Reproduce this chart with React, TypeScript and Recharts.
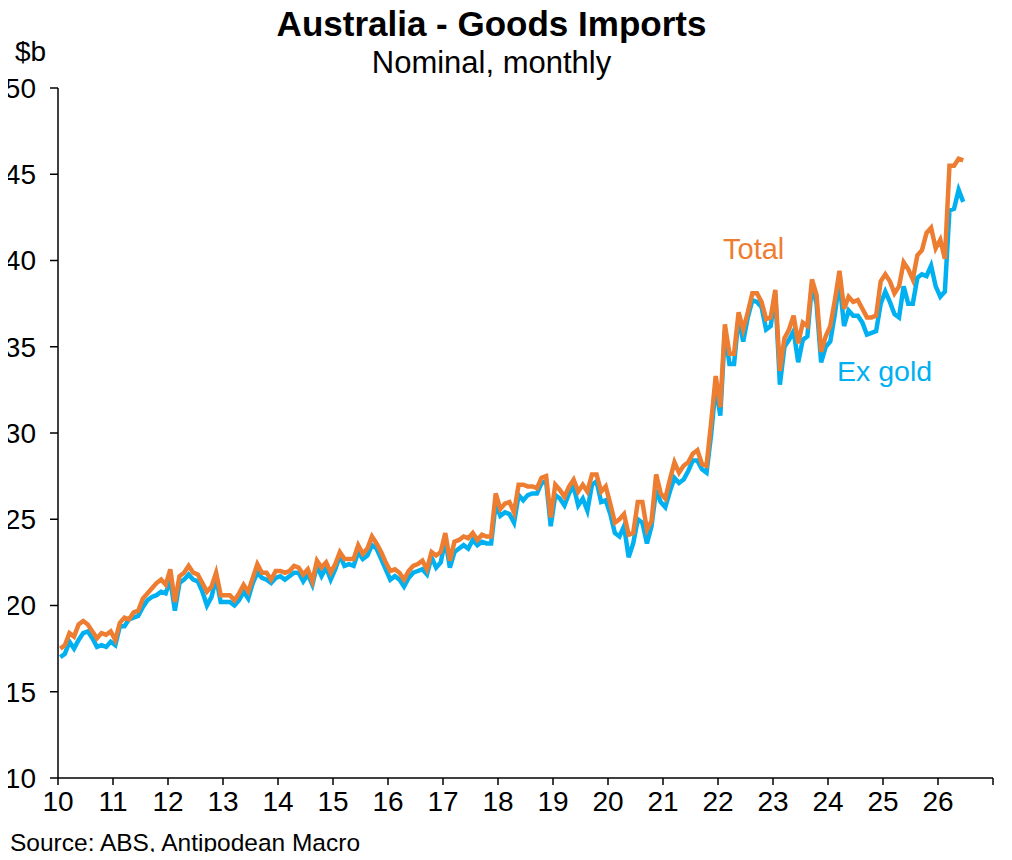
import { LineChart, Line, XAxis, YAxis } from 'recharts';

// monthly data, Jan 2010 to Jun 2026, $b nominal
const START_YEAR = 2010;

const total = [
  17.5, 17.7, 18.4, 18.2, 18.9, 19.1, 18.9, 18.5, 18.1, 18.4, 18.3, 18.5,
  18.0, 19.0, 19.3, 19.2, 19.6, 19.7, 20.4, 20.7, 21.0, 21.3, 21.5, 21.2,
  22.1, 20.2, 21.7, 21.9, 22.3, 21.9, 21.8, 21.3, 20.8, 21.1, 21.9, 20.6,
  20.6, 20.6, 20.3, 20.7, 21.2, 20.8, 21.6, 22.4, 21.9, 21.9, 21.5, 22.0,
  22.0, 21.9, 22.0, 22.3, 22.2, 21.8, 22.1, 21.4, 22.6, 22.2, 22.5, 21.9,
  22.4, 23.1, 22.7, 22.7, 22.7, 23.5, 23.0, 23.3, 24.0, 23.6, 23.1, 22.5,
  22.0, 22.1, 21.9, 21.5, 22.0, 22.3, 22.4, 22.6, 22.1, 23.1, 22.9, 23.1,
  24.2, 22.6, 23.7, 23.8, 24.0, 23.9, 24.2, 23.8, 24.1, 24.0, 24.0, 26.5,
  25.6, 25.9, 26.0, 25.4, 27.0, 27.0, 26.9, 26.9, 26.8, 27.4, 27.5, 25.1,
  27.0, 26.7, 26.3, 26.9, 27.3, 26.6, 27.0, 26.6, 27.6, 27.6, 26.6, 26.9,
  25.9, 24.8, 25.0, 25.3, 24.1, 24.2, 26.0, 26.0, 24.4, 24.9, 27.6, 26.5,
  26.2, 27.3, 28.3, 27.7, 28.1, 28.3, 28.8, 29.0, 28.2, 28.1, 30.6, 33.3,
  31.5, 36.3, 34.6, 34.6, 37.0, 36.0, 37.0, 38.1, 38.1, 37.6, 36.6, 36.7,
  38.3, 33.6, 35.5, 36.0, 36.8, 35.2, 36.4, 36.2, 38.9, 38.0, 34.7, 35.6,
  36.2, 37.7, 39.4, 37.2, 37.9, 37.6, 37.7, 37.2, 36.7, 36.7, 36.8, 38.8,
  39.2, 38.8, 38.1, 38.5, 39.9, 39.5, 38.9, 40.3, 40.6, 41.6, 41.9, 40.7,
  41.2, 40.1, 45.5, 45.5, 45.9, 45.8,
];

const exGold = [
  17.0, 17.2, 17.9, 17.5, 18.0, 18.4, 18.5, 18.1, 17.6, 17.7, 17.6, 17.9,
  17.7, 18.8, 18.8, 19.2, 19.3, 19.4, 19.9, 20.3, 20.5, 20.6, 20.8, 20.7,
  21.5, 19.7, 21.3, 21.5, 21.8, 21.5, 21.4, 20.8, 20.0, 20.5, 21.6, 20.2,
  20.2, 20.2, 20.0, 20.3, 20.8, 20.4, 21.3, 21.9, 21.6, 21.5, 21.3, 21.6,
  21.7, 21.5, 21.7, 21.9, 21.9, 21.4, 21.8, 21.2, 22.3, 21.7, 22.2, 21.5,
  22.1, 22.9, 22.3, 22.4, 22.3, 23.1, 22.7, 22.9, 23.5, 23.3, 22.7, 22.1,
  21.5, 21.7, 21.5, 21.1, 21.6, 21.9, 22.0, 22.1, 21.8, 22.8, 22.2, 22.5,
  23.8, 22.2, 23.1, 23.3, 23.5, 23.3, 23.8, 23.5, 23.7, 23.6, 23.6, 25.9,
  25.2, 25.4, 25.3, 24.8, 26.4, 26.1, 26.4, 26.5, 26.5, 27.1, 27.2, 24.6,
  26.4, 26.2, 25.8, 26.5, 26.9, 25.8, 26.2, 25.5, 27.0, 27.2, 26.0, 26.1,
  25.3, 24.2, 24.0, 24.6, 22.8, 23.6, 25.0, 24.8, 23.6, 24.6, 26.7, 26.0,
  25.7, 26.6, 27.4, 27.1, 27.3, 27.8, 28.4, 28.4, 27.9, 27.7, 29.9, 32.7,
  31.0, 35.9, 34.0, 34.0, 36.7, 35.3, 36.7, 37.7, 37.6, 37.3, 36.0, 36.2,
  38.1, 32.8, 35.0, 35.4, 35.9, 34.1, 35.4, 35.6, 38.6, 37.5, 34.1, 35.0,
  35.3, 36.9, 38.8, 36.2, 37.1, 36.8, 36.8, 36.4, 35.7, 35.8, 35.9, 37.5,
  38.2, 37.6, 36.9, 36.7, 38.5, 37.5, 37.5, 39.0, 39.2, 39.1, 39.7, 38.5,
  37.9, 38.2, 42.9, 43.0, 44.1, 43.4,
];

const yearTicks = [2010, 2011, 2012, 2013, 2014, 2015, 2016, 2017, 2018, 2019, 2020, 2021, 2022, 2023, 2024, 2025, 2026, 2027];
const valueTicks = [10, 15, 20, 25, 30, 35, 40, 45, 50];

const ORANGE = '#ED7D31';
const BLUE = '#00B0F0';
const FONT = '"Liberation Sans", Arial, sans-serif';

// each month sits in the middle of its slot on the date axis
const data = total.map((v, i) => ({
  x: START_YEAR + (i + 0.5) / 12,
  total: v,
  exGold: exGold[i],
}));

const text = (left: number, top: number, size: number, color = '#000', bold = false) => ({
  position: 'absolute' as const,
  left,
  top,
  fontSize: size,
  color,
  fontWeight: bold ? 700 : 400,
  lineHeight: 1,
  whiteSpace: 'nowrap' as const,
  transform: 'translateY(-50%)',
});

export default function App() {
  return (
    <div style={{ position: 'relative', width: 1012, height: 860, margin: -8, background: '#fff', fontFamily: FONT }}>
      <div style={{ ...text(0, 23, 35, '#000', true), width: 983, textAlign: 'center' }}>
        Australia - Goods Imports
      </div>
      <div style={{ ...text(0, 62, 31), width: 983, textAlign: 'center' }}>Nominal, monthly</div>
      <div style={text(15, 52, 28)}>$b</div>

      <LineChart
        width={1012}
        height={860}
        data={data}
        margin={{ top: 88, right: 19, bottom: 42, left: 0 }}
      >
        <XAxis
          type="number"
          dataKey="x"
          domain={[2010, 2027]}
          ticks={yearTicks}
          allowDataOverflow
          tickFormatter={(y: number) => (y === 2027 ? '' : String(y - 2000))}
          axisLine={{ stroke: '#000', strokeWidth: 1.5 }}
          tickLine={{ stroke: '#000', strokeWidth: 1.5 }}
          tickSize={7}
          tickMargin={6}
          height={40}
          tick={{ fontSize: 28, fill: '#000', fontFamily: FONT }}
        />
        <YAxis
          type="number"
          domain={[10, 50]}
          ticks={valueTicks}
          allowDataOverflow
          axisLine={{ stroke: '#000', strokeWidth: 1.5 }}
          tickLine={{ stroke: '#000', strokeWidth: 1.5 }}
          tickSize={8}
          tickMargin={14}
          width={58}
          tick={{ fontSize: 28, fill: '#000', fontFamily: FONT }}
        />
        <Line
          type="linear"
          dataKey="exGold"
          stroke={BLUE}
          strokeWidth={4.5}
          dot={false}
          isAnimationActive={false}
        />
        <Line
          type="linear"
          dataKey="total"
          stroke={ORANGE}
          strokeWidth={4.5}
          dot={false}
          isAnimationActive={false}
        />
      </LineChart>

      <div style={text(723, 249, 29, ORANGE)}>Total</div>
      <div style={text(837, 371, 28.5, BLUE)}>Ex gold</div>
      <div style={text(10, 843, 24.5)}>Source: ABS, Antipodean Macro</div>
    </div>
  );
}
